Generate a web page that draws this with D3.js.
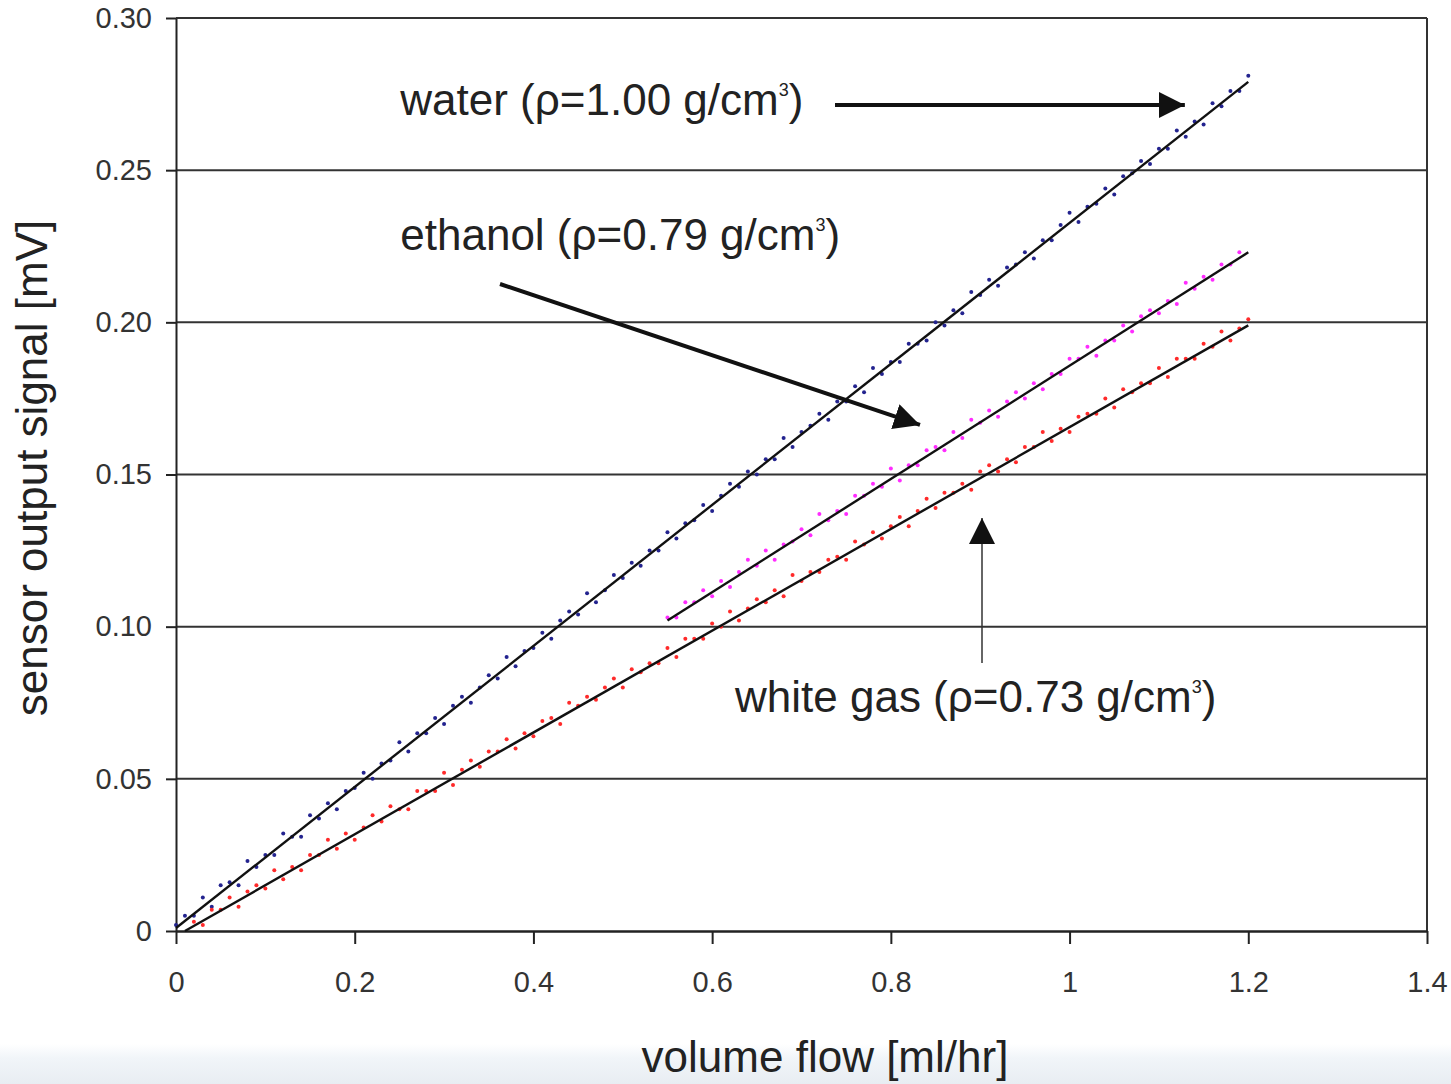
<!DOCTYPE html>
<meta charset="utf-8">
<script src="https://cdn.jsdelivr.net/npm/d3@7"></script>
<style>
body { margin: 0; background: #fff; }
text { font-family: "Liberation Sans", Arial, sans-serif; fill: #222; }
.grid line { stroke: #333; stroke-width: 2px; }
.tick text { font-size: 29px; fill: #333; }
.dot-water { fill: #23238f; }
.dot-ethanol { fill: #ff2cff; }
.dot-gas { fill: #ff2a2a; }
.fit { stroke: #111; stroke-width: 2.4px; fill: none; }
</style>
<body>
<script>

// volume flow [ml/hr] vs sensor output [mV]
var water = [
  [0.00,0.002],[0.01,0.005],[0.02,0.005],[0.03,0.011],[0.04,0.008],[0.05,0.015],[0.06,0.016],[0.07,0.015],
  [0.08,0.023],[0.09,0.021],[0.10,0.025],[0.11,0.025],[0.12,0.032],[0.13,0.031],[0.14,0.031],[0.15,0.038],
  [0.16,0.037],[0.17,0.042],[0.18,0.040],[0.19,0.046],[0.20,0.047],[0.21,0.052],[0.22,0.050],[0.23,0.055],
  [0.24,0.056],[0.25,0.062],[0.26,0.059],[0.27,0.065],[0.28,0.065],[0.29,0.070],[0.30,0.068],[0.31,0.074],
  [0.32,0.077],[0.33,0.075],[0.34,0.080],[0.35,0.084],[0.36,0.083],[0.37,0.090],[0.38,0.087],[0.39,0.092],
  [0.40,0.093],[0.41,0.098],[0.42,0.096],[0.43,0.102],[0.44,0.105],[0.45,0.104],[0.46,0.111],[0.47,0.108],
  [0.48,0.112],[0.49,0.117],[0.50,0.116],[0.51,0.121],[0.52,0.120],[0.53,0.125],[0.54,0.125],[0.55,0.131],
  [0.56,0.129],[0.57,0.134],[0.58,0.135],[0.59,0.140],[0.60,0.138],[0.61,0.143],[0.62,0.147],[0.63,0.146],
  [0.64,0.151],[0.65,0.150],[0.66,0.155],[0.67,0.155],[0.68,0.162],[0.69,0.159],[0.70,0.164],[0.71,0.166],
  [0.72,0.170],[0.73,0.168],[0.74,0.174],[0.75,0.174],[0.76,0.179],[0.77,0.177],[0.78,0.185],[0.79,0.183],
  [0.80,0.187],[0.81,0.187],[0.82,0.193],[0.83,0.193],[0.84,0.194],[0.85,0.200],[0.86,0.199],[0.87,0.204],
  [0.88,0.203],[0.89,0.210],[0.90,0.209],[0.91,0.214],[0.92,0.212],[0.93,0.218],[0.94,0.219],[0.95,0.223],
  [0.96,0.221],[0.97,0.227],[0.98,0.227],[0.99,0.232],[1.00,0.236],[1.01,0.233],[1.02,0.238],[1.03,0.239],
  [1.04,0.244],[1.05,0.242],[1.06,0.248],[1.07,0.249],[1.08,0.253],[1.09,0.252],[1.10,0.257],[1.11,0.257],
  [1.12,0.263],[1.13,0.261],[1.14,0.266],[1.15,0.265],[1.16,0.272],[1.17,0.271],[1.18,0.276],[1.19,0.276],
  [1.20,0.281]
];

var ethanol = [
  [0.55,0.103],[0.56,0.103],[0.57,0.108],[0.58,0.108],[0.59,0.112],[0.60,0.110],[0.61,0.115],[0.62,0.113],
  [0.63,0.118],[0.64,0.122],[0.65,0.120],[0.66,0.125],[0.67,0.122],[0.68,0.127],[0.69,0.128],[0.70,0.132],
  [0.71,0.130],[0.72,0.137],[0.73,0.135],[0.74,0.138],[0.75,0.137],[0.76,0.143],[0.77,0.143],[0.78,0.147],
  [0.79,0.146],[0.80,0.152],[0.81,0.148],[0.82,0.153],[0.83,0.153],[0.84,0.158],[0.85,0.159],[0.86,0.158],
  [0.87,0.164],[0.88,0.162],[0.89,0.168],[0.90,0.167],[0.91,0.171],[0.92,0.169],[0.93,0.174],[0.94,0.177],
  [0.95,0.175],[0.96,0.180],[0.97,0.178],[0.98,0.183],[0.99,0.183],[1.00,0.188],[1.01,0.188],[1.02,0.192],
  [1.03,0.189],[1.04,0.194],[1.05,0.194],[1.06,0.199],[1.07,0.197],[1.08,0.202],[1.09,0.204],[1.10,0.203],
  [1.11,0.207],[1.12,0.206],[1.13,0.213],[1.14,0.211],[1.15,0.215],[1.16,0.214],[1.17,0.219],[1.18,0.219],
  [1.19,0.223]
];

var whiteGas = [
  [0.02,0.003],[0.03,0.002],[0.04,0.007],[0.05,0.007],[0.06,0.011],[0.07,0.008],[0.08,0.013],[0.09,0.015],
  [0.10,0.014],[0.11,0.020],[0.12,0.017],[0.13,0.021],[0.14,0.020],[0.15,0.025],[0.16,0.025],[0.17,0.030],
  [0.18,0.027],[0.19,0.032],[0.20,0.030],[0.21,0.034],[0.22,0.038],[0.23,0.036],[0.24,0.041],[0.25,0.040],
  [0.26,0.040],[0.27,0.046],[0.28,0.046],[0.29,0.046],[0.30,0.052],[0.31,0.048],[0.32,0.053],[0.33,0.056],
  [0.34,0.054],[0.35,0.059],[0.36,0.059],[0.37,0.063],[0.38,0.060],[0.39,0.065],[0.40,0.064],[0.41,0.069],
  [0.42,0.070],[0.43,0.068],[0.44,0.075],[0.45,0.074],[0.46,0.077],[0.47,0.076],[0.48,0.080],[0.49,0.083],
  [0.50,0.080],[0.51,0.086],[0.52,0.085],[0.53,0.088],[0.54,0.088],[0.55,0.093],[0.56,0.090],[0.57,0.096],
  [0.58,0.096],[0.59,0.096],[0.60,0.101],[0.61,0.100],[0.62,0.105],[0.63,0.102],[0.64,0.106],[0.65,0.109],
  [0.66,0.108],[0.67,0.112],[0.68,0.110],[0.69,0.117],[0.70,0.115],[0.71,0.118],[0.72,0.118],[0.73,0.122],
  [0.74,0.123],[0.75,0.122],[0.76,0.128],[0.77,0.127],[0.78,0.131],[0.79,0.129],[0.80,0.133],[0.81,0.136],
  [0.82,0.133],[0.83,0.138],[0.84,0.142],[0.85,0.139],[0.86,0.144],[0.87,0.144],[0.88,0.147],[0.89,0.145],
  [0.90,0.151],[0.91,0.153],[0.92,0.151],[0.93,0.155],[0.94,0.154],[0.95,0.159],[0.96,0.159],[0.97,0.164],
  [0.98,0.161],[0.99,0.165],[1.00,0.164],[1.01,0.169],[1.02,0.170],[1.03,0.170],[1.04,0.175],[1.05,0.172],
  [1.06,0.178],[1.07,0.177],[1.08,0.180],[1.09,0.180],[1.10,0.185],[1.11,0.182],[1.12,0.188],[1.13,0.188],
  [1.14,0.188],[1.15,0.193],[1.16,0.192],[1.17,0.197],[1.18,0.194],[1.19,0.198],[1.20,0.201]
];

// linear fit lines (start, end)
var waterFit = [[0.00,0.001],[1.20,0.279]];
var ethanolFit = [[0.55,0.102],[1.20,0.223]];
var gasFit = [[0.01,0.000],[1.20,0.199]];

var xTicks = [0, 0.2, 0.4, 0.6, 0.8, 1, 1.2, 1.4];
var yTicks = [0, 0.05, 0.10, 0.15, 0.20, 0.25, 0.30];
var yTickLabels = ["0", "0.05", "0.10", "0.15", "0.20", "0.25", "0.30"];

var width = 1451, height = 1084;
var margin = {top: 18, right: 24, bottom: 153, left: 176};
var w = width - margin.left - margin.right,
    h = height - margin.top - margin.bottom;

var svg = d3.select("body").append("svg")
    .attr("width", width)
    .attr("height", height);

// light strip at the bottom of the screenshot
var defs = svg.append("defs");
var grad = defs.append("linearGradient").attr("id", "strip")
    .attr("x1", 0).attr("y1", 0).attr("x2", 0).attr("y2", 1);
grad.append("stop").attr("offset", "0%").attr("stop-color", "#ffffff");
grad.append("stop").attr("offset", "35%").attr("stop-color", "#f1f5f9");
grad.append("stop").attr("offset", "100%").attr("stop-color", "#e8edf2");
svg.append("rect").attr("x", 0).attr("y", 1044).attr("width", width).attr("height", 40)
    .attr("fill", "url(#strip)");

// arrow heads
defs.append("marker").attr("id", "headBig")
    .attr("viewBox", "0 0 10 10").attr("refX", 10).attr("refY", 5)
    .attr("markerUnits", "userSpaceOnUse")
    .attr("markerWidth", 26).attr("markerHeight", 26)
    .attr("orient", "auto")
  .append("path").attr("d", "M0,0 L10,5 L0,10 Z").attr("fill", "#111");

defs.append("marker").attr("id", "headSmall")
    .attr("viewBox", "0 0 10 10").attr("refX", 10).attr("refY", 5)
    .attr("markerUnits", "userSpaceOnUse")
    .attr("markerWidth", 26).attr("markerHeight", 28)
    .attr("orient", "auto")
  .append("path").attr("d", "M0,0 L10,5 L0,10 Z").attr("fill", "#111");

var g = svg.append("g").attr("transform", "translate(" + margin.left + "," + margin.top + ")");

var x = d3.scaleLinear().domain([0, 1.4]).range([0, w]);
var y = d3.scaleLinear().domain([0, 0.30]).range([h, 0]);

// horizontal grid
g.append("g").attr("class", "grid")
  .selectAll("line")
  .data(yTicks.slice(1))
  .enter().append("line")
    .attr("x1", 0).attr("x2", w)
    .attr("y1", function(d) { return y(d); })
    .attr("y2", function(d) { return y(d); });

// right border
g.append("line").attr("x1", w).attr("x2", w).attr("y1", 0).attr("y2", h)
    .attr("stroke", "#333").attr("stroke-width", 2);

// axes
var yAxis = d3.axisLeft(y).tickValues(yTicks)
    .tickFormat(function(d, i) { return yTickLabels[i]; })
    .tickSize(10).tickSizeOuter(0).tickPadding(14);
var gy = g.append("g").call(yAxis);
gy.select(".domain").attr("stroke", "#222").attr("stroke-width", 2);
gy.selectAll(".tick line").attr("stroke", "#222").attr("stroke-width", 2);

var xAxis = d3.axisBottom(x).tickValues(xTicks)
    .tickFormat(function(d) { return d3.format("")(d); })
    .tickSize(13).tickSizeOuter(0).tickPadding(27);
var gx = g.append("g").attr("transform", "translate(0," + h + ")").call(xAxis);
gx.select(".domain").attr("stroke", "#222").attr("stroke-width", 2.5);
gx.selectAll(".tick line").attr("stroke", "#222").attr("stroke-width", 2);

// scatter
function dots(data, cls) {
  g.append("g").selectAll("circle")
    .data(data)
    .enter().append("circle")
      .attr("class", cls)
      .attr("r", 2)
      .attr("cx", function(d) { return x(d[0]); })
      .attr("cy", function(d) { return y(d[1]); });
}
dots(water, "dot-water");
dots(ethanol, "dot-ethanol");
dots(whiteGas, "dot-gas");

// fit lines
var line = d3.line().x(function(d) { return x(d[0]); }).y(function(d) { return y(d[1]); });
[waterFit, ethanolFit, gasFit].forEach(function(f) {
  g.append("path").attr("class", "fit").attr("d", line(f));
});

// annotations
function label(tx, ty, name) {
  var t = g.append("text").attr("x", x(tx)).attr("y", y(ty)).style("font-size", "44px");
  t.append("tspan").text(name + " g/cm");
  t.append("tspan").attr("dy", -19).style("font-size", "18px").text("3");
  t.append("tspan").attr("dy", 19).text(")");
}
label(0.251, 0.2682, "water (\u03c1=1.00");
label(0.251, 0.2238, "ethanol (\u03c1=0.79");
label(0.6256, 0.0720, "white gas (\u03c1=0.73");

g.append("line")
    .attr("x1", x(0.7375)).attr("y1", y(0.2714))
    .attr("x2", x(1.129)).attr("y2", y(0.2714))
    .attr("stroke", "#111").attr("stroke-width", 4)
    .attr("marker-end", "url(#headBig)");

g.append("line")
    .attr("x1", x(0.3626)).attr("y1", y(0.2126))
    .attr("x2", x(0.8326)).attr("y2", y(0.1663))
    .attr("stroke", "#111").attr("stroke-width", 4)
    .attr("marker-end", "url(#headBig)");

g.append("line")
    .attr("x1", x(0.902)).attr("y1", y(0.0881))
    .attr("x2", x(0.902)).attr("y2", y(0.1357))
    .attr("stroke", "#333").attr("stroke-width", 1.5)
    .attr("marker-end", "url(#headSmall)");

// axis titles
svg.append("text")
    .attr("transform", "translate(47,468) rotate(-90)")
    .attr("text-anchor", "middle")
    .style("font-size", "44px")
    .text("sensor output signal [mV]");

svg.append("text")
    .attr("x", 825).attr("y", 1072)
    .attr("text-anchor", "middle")
    .style("font-size", "44px")
    .text("volume flow [ml/hr]");

</script>
</body>
